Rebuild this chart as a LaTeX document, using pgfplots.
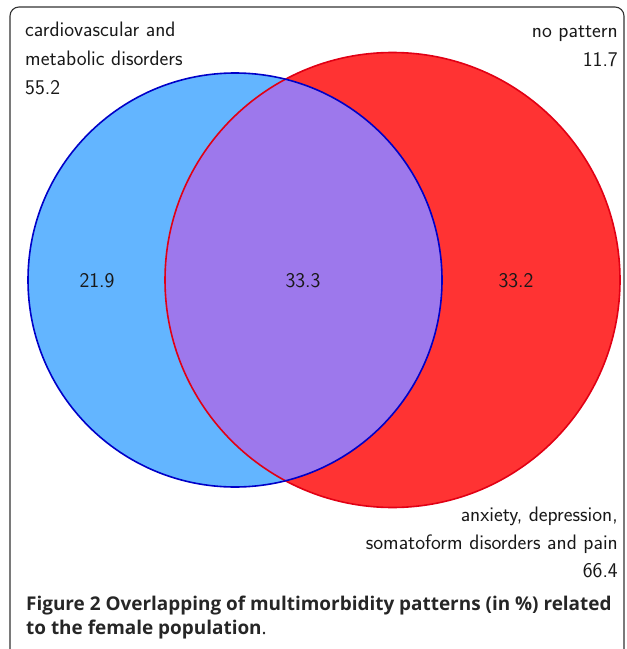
\documentclass[border=0pt]{standalone}
\usepackage{pgfplots}
\pgfplotsset{compat=1.18}
\usepackage{fontspec}
\newfontfamily\capfont{Open Sans}
\definecolor{bfill}{RGB}{99,181,255}
\definecolor{bline}{RGB}{0,0,200}
\definecolor{rfill}{RGB}{255,51,51}
\definecolor{rline}{RGB}{225,0,20}
\definecolor{pfill}{RGB}{157,120,236}
\definecolor{txt}{RGB}{25,25,25}
% circles: centre x, centre y, radius (pixel units)
\def\bx{235}\def\by{280}\def\br{207}
\def\rx{392.5}\def\ry{280}\def\rr{227.5}
\tikzset{lab/.style={font=\sffamily\fontsize{21}{25}\selectfont, text=txt, inner sep=0pt},
         captext/.style={font=\capfont\bfseries\fontsize{19}{22}\selectfont, text=black!85, inner sep=0pt}}
\begin{document}
\begin{tikzpicture}
\begin{axis}[
  x=1bp, y=1bp, scale only axis,
  xmin=0, xmax=627, ymin=0, ymax=649, y dir=reverse,
  hide axis, clip=false,
]
\draw[black!80, line width=1.1bp, rounded corners=9bp] (axis cs:10,649) -- (axis cs:10,7) -- (axis cs:624,7) -- (axis cs:624,649);
\fill[bfill] (axis cs:\bx,\by) circle [radius=\br];
\fill[rfill] (axis cs:\rx,\ry) circle [radius=\rr];
\begin{scope}
\clip (axis cs:\bx,\by) circle [radius=\br];
\fill[pfill] (axis cs:\rx,\ry) circle [radius=\rr];
\end{scope}
\draw[rline, line width=1.6bp] (axis cs:\rx,\ry) circle [radius=\rr];
\draw[bline, line width=1.6bp] (axis cs:\bx,\by) circle [radius=\br];
\node[lab, anchor=base west] at (axis cs:25,37) {cardiovascular and};
\node[lab, anchor=base west] at (axis cs:25,66) {metabolic disorders};
\node[lab, anchor=base west] at (axis cs:25,95) {55.2};
\node[lab, anchor=base east] at (axis cs:618,38) {no pattern};
\node[lab, anchor=base east] at (axis cs:618,67) {11.7};
\node[lab, anchor=base east] at (axis cs:618,521) {anxiety, depression,};
\node[lab, anchor=base east] at (axis cs:618,549) {somatoform disorders and pain};
\node[lab, anchor=base east] at (axis cs:618,577) {66.4};
\node[lab, anchor=base] at (axis cs:97,287) {21.9};
\node[lab, anchor=base] at (axis cs:303,287) {33.3};
\node[lab, anchor=base] at (axis cs:516,287) {33.2};
\node[captext, anchor=base west] at (axis cs:26,610) {Figure 2 Overlapping of multimorbidity patterns (in \%) related};
\node[captext, anchor=base west] at (axis cs:26,634) {to the female population\mdseries.};
\end{axis}
\pgfresetboundingbox
\path (current axis.south west) rectangle (current axis.north east);
\end{tikzpicture}
\end{document}
